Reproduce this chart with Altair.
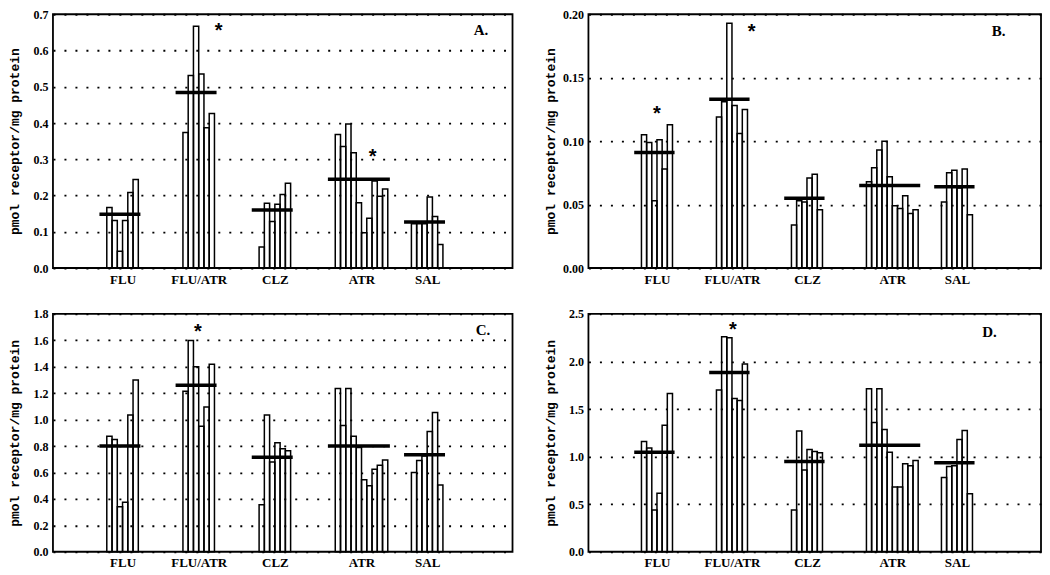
import altair as alt
import pandas as pd

GROUPS = ["FLU", "FLU/ATR", "CLZ", "ATR", "SAL"]

# Panel A
A_FLU = [0.167, 0.131, 0.046, 0.131, 0.208, 0.244]
A_FLUATR = [0.374, 0.531, 0.667, 0.535, 0.387, 0.426]
A_CLZ = [0.058, 0.179, 0.128, 0.176, 0.203, 0.234]
A_ATR = [0.368, 0.335, 0.397, 0.318, 0.180, 0.097, 0.137, 0.240, 0.198, 0.218]
A_SAL = [0.122, 0.122, 0.122, 0.196, 0.142, 0.065]
A_MEANS = [0.148, 0.484, 0.160, 0.245, 0.127]
A_STARS = [("FLU/ATR", 6.8, 0.668), ("ATR", 7.1, 0.32)]

# Panel B
B_FLU = [0.105, 0.099, 0.053, 0.101, 0.078, 0.113]
B_FLUATR = [0.119, 0.131, 0.193, 0.128, 0.106, 0.125]
B_CLZ = [0.034, 0.053, 0.052, 0.071, 0.074, 0.046]
B_ATR = [0.068, 0.079, 0.093, 0.100, 0.072, 0.049, 0.047, 0.057, 0.043, 0.046]
B_SAL = [0.052, 0.075, 0.077, 0.063, 0.078, 0.042]
B_MEANS = [0.091, 0.133, 0.055, 0.065, 0.064]
B_STARS = [("FLU", 3.0, 0.125), ("FLU/ATR", 6.8, 0.190)]

# Panel C
C_FLU = [0.875, 0.850, 0.340, 0.375, 1.035, 1.300]
C_FLUATR = [1.215, 1.600, 1.400, 0.950, 1.095, 1.420]
C_CLZ = [0.355, 1.035, 0.680, 0.825, 0.780, 0.765]
C_ATR = [1.235, 0.955, 1.235, 0.875, 0.790, 0.545, 0.500, 0.625, 0.655, 0.695]
C_SAL = [0.600, 0.690, 0.725, 0.910, 1.055, 0.505]
C_MEANS = [0.800, 1.260, 0.715, 0.800, 0.735]
C_STARS = [("FLU/ATR", 2.85, 1.70)]

# Panel D
D_FLU = [1.160, 1.090, 0.440, 0.615, 1.330, 1.665]
D_FLUATR = [1.700, 2.260, 2.250, 1.610, 1.590, 1.975]
D_CLZ = [0.440, 1.270, 0.860, 1.075, 1.055, 1.040]
D_ATR = [1.715, 1.360, 1.715, 1.285, 1.045, 0.680, 0.680, 0.925, 0.905, 0.960]
D_SAL = [0.780, 0.895, 0.905, 1.180, 1.275, 0.610]
D_MEANS = [1.045, 1.885, 0.950, 1.120, 0.935]
D_STARS = [("FLU/ATR", 3.2, 2.385)]

YTITLE = "pmol receptor/mg protein"

GROUP_START0 = 10.25
GROUP_STEP = 14.5
XMAX = 87.5

SERIF = "Liberation Serif"
MONO = "Liberation Mono"


def panel(series, means, stars, ymax, ticks, fmt, W, H, letter, lx, ly):
    starts = [GROUP_START0 + GROUP_STEP * k for k in range(len(GROUPS))]
    bars, mrows, centers = [], [], []
    for g, s, vals, m in zip(GROUPS, starts, series, means):
        n = len(vals)
        centers.append(s + n / 2)
        for i, v in enumerate(vals):
            bars.append({"g": g, "x0": s + i, "x1": s + i + 1, "v": v, "z": 0})
        mrows.append({"g": g, "x0": s - 1.4, "x1": s + n + 0.4, "v": m})
    srows = []
    for g, off, v in stars:
        s = starts[GROUPS.index(g)]
        srows.append({"x0": s + off, "v": v, "t": "*"})

    expr = ""
    for k, g in enumerate(GROUPS[:-1]):
        mid = (centers[k] + centers[k + 1]) / 2
        expr += f"datum.value < {mid} ? '{g}' : "
    expr += f"'{GROUPS[-1]}'"

    xscale = alt.Scale(domain=[0, XMAX], nice=False, zero=False)
    yscale = alt.Scale(domain=[0, ymax], nice=False, zero=True)

    xaxis = alt.Axis(values=centers, labelExpr=expr, ticks=False, domain=False,
                     grid=False, title=None, labelFont=SERIF, labelFontSize=13,
                     labelFontWeight="bold", labelColor="black", labelPadding=5,
                     labelOverlap=False)
    yaxis = alt.Axis(values=ticks, format=fmt, ticks=False, domain=False,
                     grid=True, gridDash=[2, 9], gridColor="black", gridWidth=1.8,
                     labelFont=SERIF, labelFontSize=12, labelFontWeight="bold",
                     labelColor="black", labelPadding=5, labelOverlap=False,
                     title=YTITLE, titleFont=MONO, titleFontSize=13,
                     titleFontWeight="bold", titleColor="black",
                     titleX=-38, titleY=H / 2, titleAngle=-90,
                     titleBaseline="middle", titleAlign="center")

    X = alt.X("x0:Q", scale=xscale, axis=xaxis)
    Y = alt.Y("v:Q", scale=yscale, axis=yaxis)

    bar_chart = alt.Chart(pd.DataFrame(bars)).mark_rect(
        fill="white", fillOpacity=0, stroke="black", strokeWidth=1.5
    ).encode(x=X, x2="x1:Q", y=Y, y2="z:Q")
    mean_chart = alt.Chart(pd.DataFrame(mrows)).mark_rule(
        color="black", strokeWidth=3.5
    ).encode(x=X, x2="x1:Q", y=Y)
    star_chart = alt.Chart(pd.DataFrame(srows)).mark_text(
        font="Liberation Sans", fontSize=20, fontWeight="bold", color="black",
        baseline="middle", dy=5
    ).encode(x=X, y=Y, text="t:N")
    letter_chart = alt.Chart(pd.DataFrame({"t": [letter]})).mark_text(
        font=SERIF, fontSize=15, fontWeight="bold", color="black",
        baseline="middle", align="center"
    ).encode(text="t:N", x=alt.value(W - lx), y=alt.value(ly))
    frame = alt.Chart(pd.DataFrame({"f": [0]})).mark_rect(
        fill="white", fillOpacity=0, stroke="black", strokeWidth=1.8
    ).encode(x=alt.value(0), x2=alt.value(W), y=alt.value(0), y2=alt.value(H))

    return alt.layer(bar_chart, mean_chart, star_chart, letter_chart, frame).properties(
        width=W, height=H)


pA = panel([A_FLU, A_FLUATR, A_CLZ, A_ATR, A_SAL], A_MEANS, A_STARS, 0.7,
           [0, 0.1, 0.2, 0.3, 0.4, 0.5, 0.6, 0.7], ".1f", 460, 254, "A.", 31.5, 16)
pB = panel([B_FLU, B_FLUATR, B_CLZ, B_ATR, B_SAL], B_MEANS, B_STARS, 0.2,
           [0, 0.05, 0.10, 0.15, 0.20], ".2f", 453, 254, "B.", 42.5, 17)
pC = panel([C_FLU, C_FLUATR, C_CLZ, C_ATR, C_SAL], C_MEANS, C_STARS, 1.8,
           [0, 0.2, 0.4, 0.6, 0.8, 1.0, 1.2, 1.4, 1.6, 1.8], ".1f", 460, 238, "C.", 29.5, 16)
pD = panel([D_FLU, D_FLUATR, D_CLZ, D_ATR, D_SAL], D_MEANS, D_STARS, 2.5,
           [0, 0.5, 1.0, 1.5, 2.0, 2.5], ".1f", 453, 238, "D.", 51.5, 18)

chart = alt.concat(
    pA, pB, pC, pD, columns=2, spacing={"row": 46, "column": 76}, bounds="flush"
).properties(
    padding={"left": 0, "top": 0, "right": 0, "bottom": 0}
).configure(background="white").configure_view(stroke=None)

chart.save("out.html", embed_options={"renderer": "svg", "actions": False})
